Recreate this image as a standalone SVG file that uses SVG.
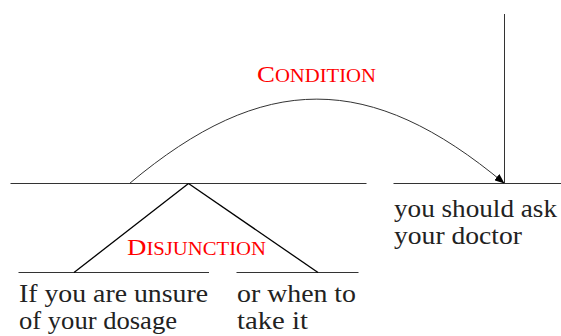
<svg xmlns="http://www.w3.org/2000/svg" width="561" height="336" viewBox="0 0 561 336">
  <style>
    .ln { stroke: #333; stroke-width: 1; fill: none; }
    .tri { stroke: #000; stroke-width: 1.3; fill: none; }
    .txt { font-family: 'Liberation Serif', 'DejaVu Serif', serif; font-size: 25px; fill: #222; }
    .rel { font-family: 'Liberation Serif', 'DejaVu Serif', serif; font-size: 24px; fill: #ff0000; }
    .sc { font-size: 18.5px; }
  </style>
  <defs>
    <marker id="arr" viewBox="0 0 10 8" refX="10" refY="4" markerWidth="10" markerHeight="8" markerUnits="userSpaceOnUse" orient="auto">
      <path d="M0,0 L10,4 L0,8 Z" fill="#000"/>
    </marker>
  </defs>

  <g id="root">
    <line class="ln" x1="10.5" y1="183.5" x2="366.5" y2="183.5"/>
  </g>

  <g id="nucleus">
    <line class="ln" x1="393.5" y1="183.5" x2="561" y2="183.5"/>
    <line class="ln" x1="504.5" y1="14" x2="504.5" y2="183.5"/>
    <text class="txt" x="394" y="217" textLength="163" lengthAdjust="spacingAndGlyphs">you should ask</text>
    <text class="txt" x="394" y="244" textLength="128" lengthAdjust="spacingAndGlyphs">your doctor</text>
  </g>

  <g id="left-leaf">
    <line class="ln" x1="18.5" y1="272.5" x2="209" y2="272.5"/>
    <text class="txt" x="19" y="302" textLength="189" lengthAdjust="spacingAndGlyphs">If you are unsure</text>
    <text class="txt" x="19" y="329" textLength="158" lengthAdjust="spacingAndGlyphs">of your dosage</text>
  </g>

  <g id="right-leaf">
    <line class="ln" x1="236.5" y1="272.5" x2="358.5" y2="272.5"/>
    <text class="txt" x="237" y="302" textLength="119" lengthAdjust="spacingAndGlyphs">or when to</text>
    <text class="txt" x="237" y="329" textLength="71" lengthAdjust="spacingAndGlyphs">take it</text>
  </g>

  <g id="labels">
    <text class="rel" x="257" y="82" textLength="119" lengthAdjust="spacingAndGlyphs">C<tspan class="sc">ONDITION</tspan></text>
    <text class="rel" x="127" y="254.5" textLength="139" lengthAdjust="spacingAndGlyphs">D<tspan class="sc">ISJUNCTION</tspan></text>
  </g>

  <g id="connectors">
    <line class="tri" x1="188.5" y1="183.5" x2="74" y2="272.5"/>
    <line class="tri" x1="188.5" y1="183.5" x2="318" y2="272.5"/>
    <path class="ln" stroke="#000" d="M129.5,183.5 C263.5,71 370,71 504.5,183.5" marker-end="url(#arr)"/>
  </g>
</svg>
